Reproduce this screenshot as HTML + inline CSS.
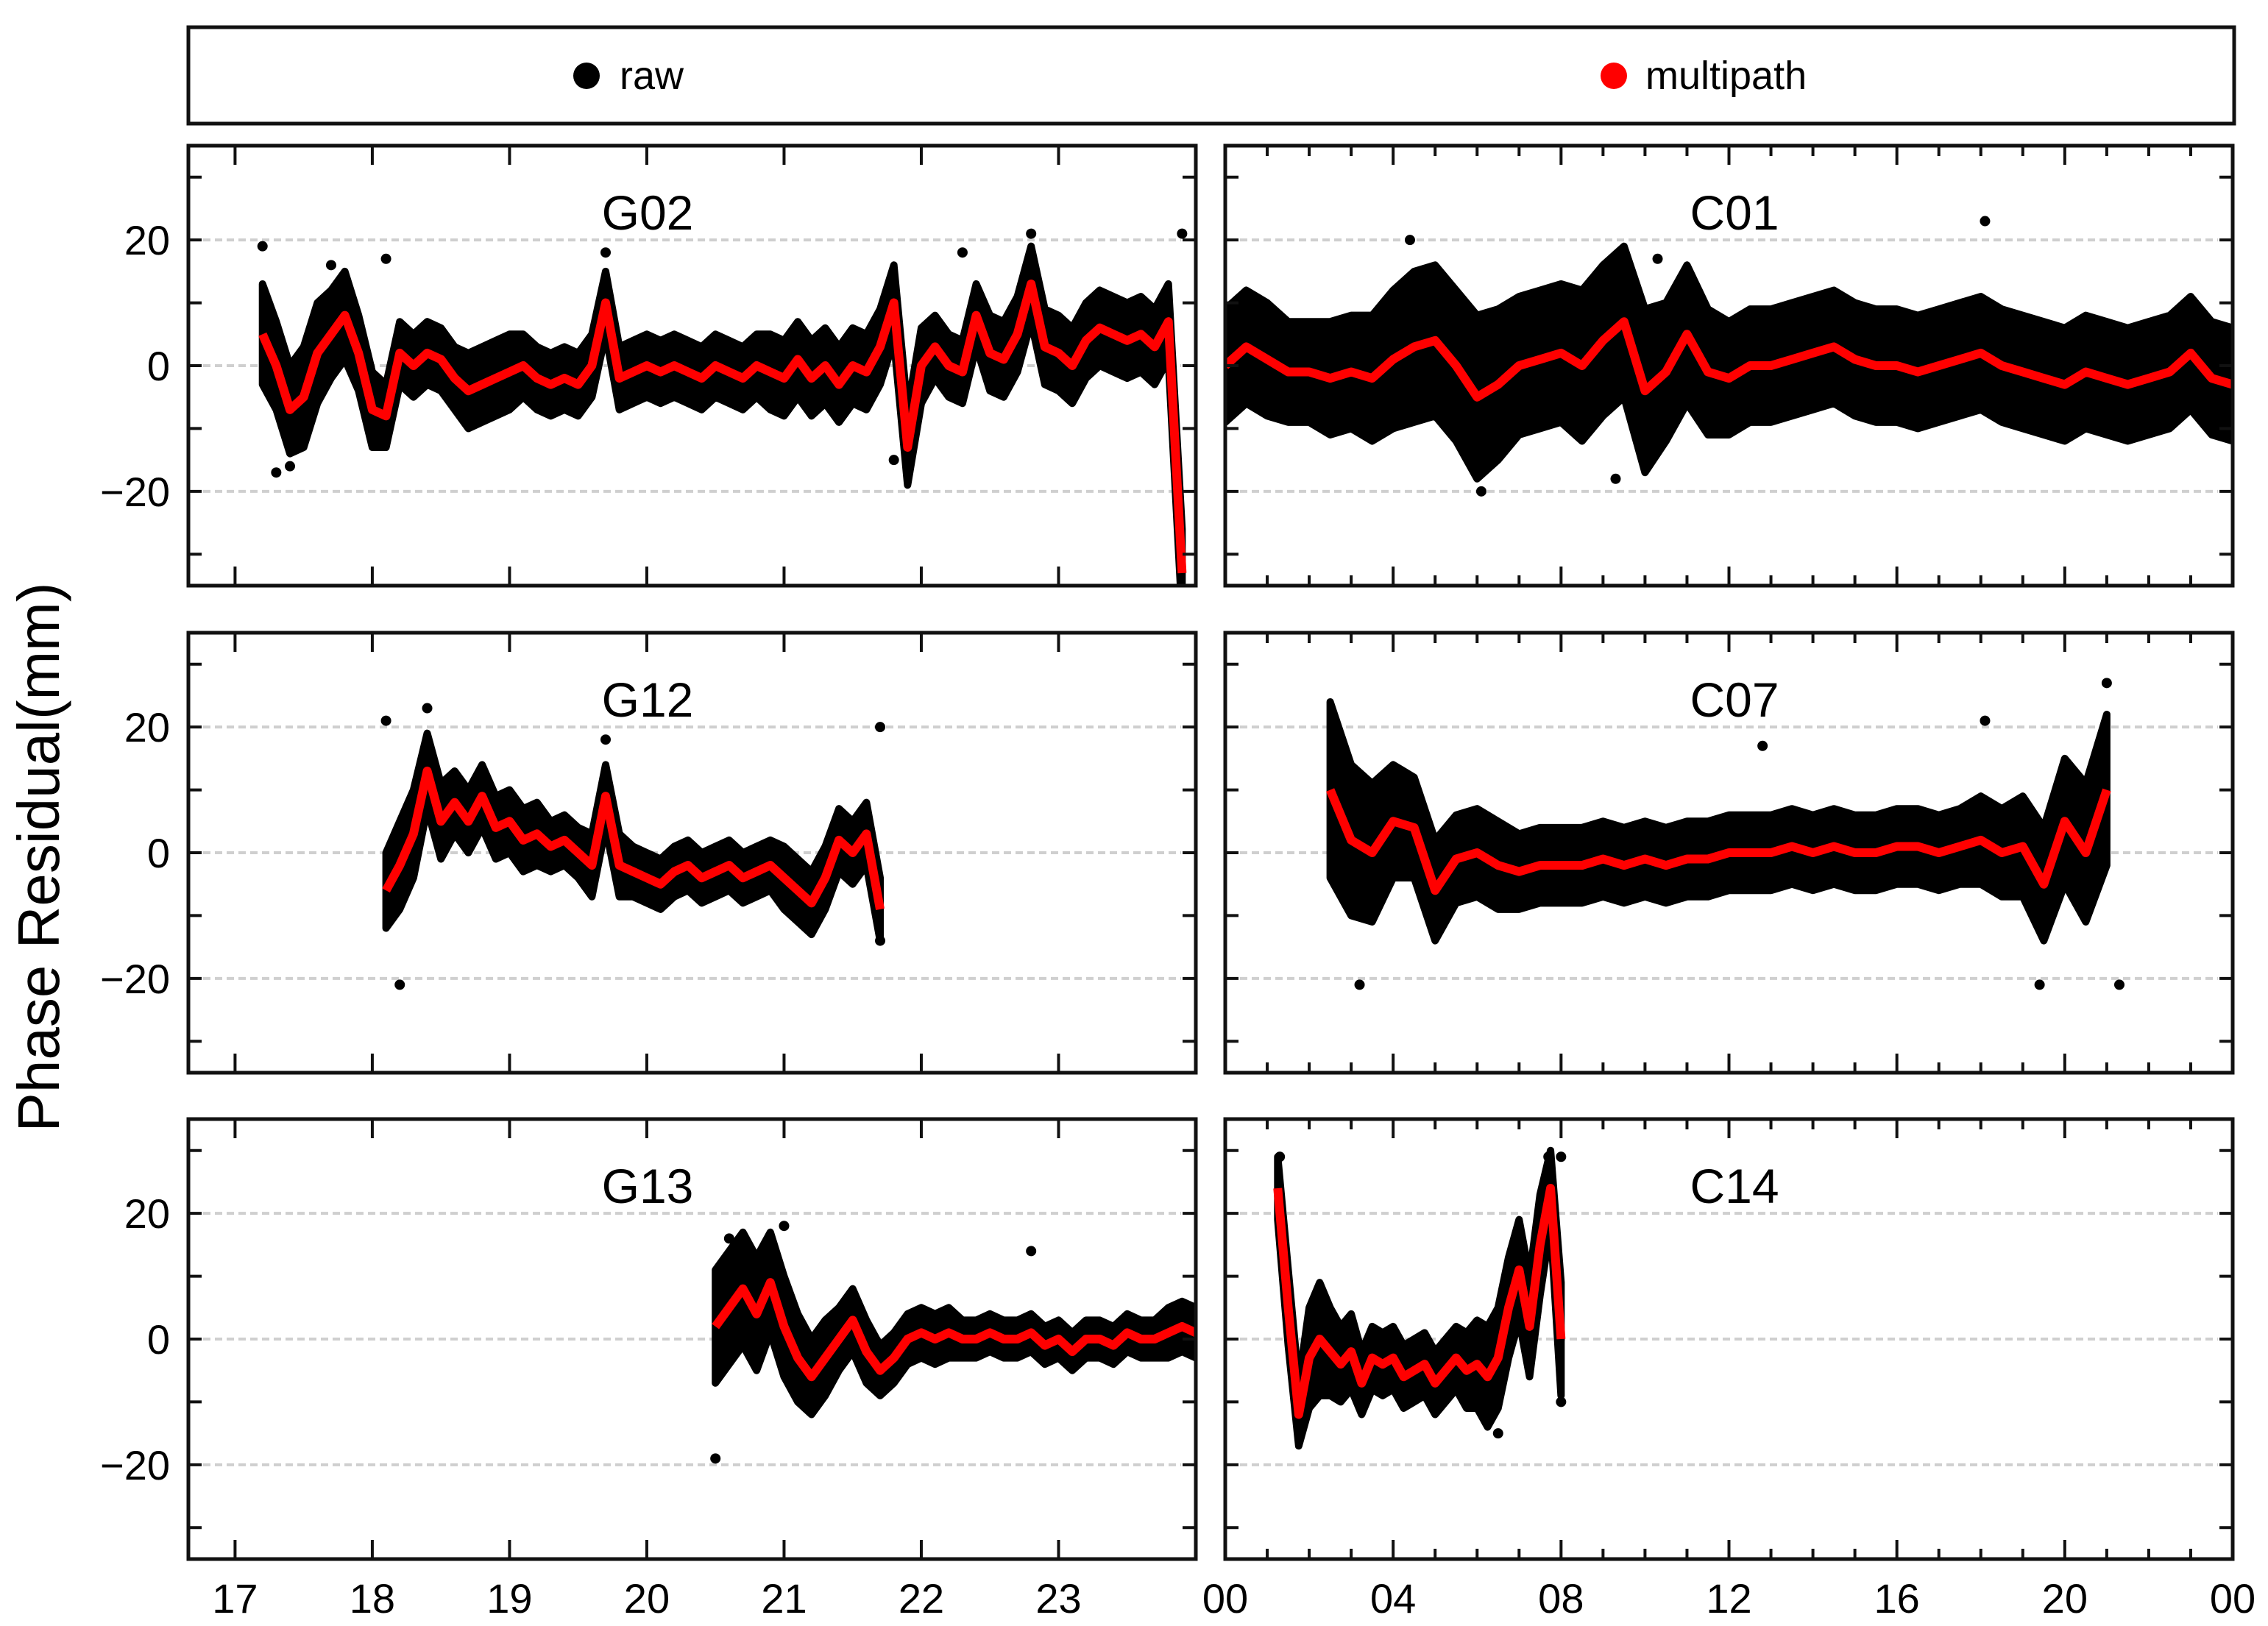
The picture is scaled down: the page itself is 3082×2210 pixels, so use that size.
<!DOCTYPE html>
<html><head><meta charset="utf-8"><style>
html,body{margin:0;padding:0;background:#fff}
svg{display:block}
text{font-family:"Liberation Sans",Arial,sans-serif}
</style></head><body>
<svg id="fig" width="3082" height="2210" viewBox="0 0 3082 2210" xmlns="http://www.w3.org/2000/svg">
<rect x="0" y="0" width="3082" height="2210" fill="#fff"/>
<g>
<rect x="256" y="37" width="2780" height="131" fill="#fff" stroke="#111" stroke-width="5"/>
<g><circle cx="797" cy="103" r="18" fill="#000"/><text x="842" y="121" font-size="54">raw</text></g>
<g><circle cx="2193" cy="103" r="18" fill="#f00"/><text x="2236" y="121" font-size="54">multipath</text></g>
</g>
<text transform="translate(80,1165) rotate(-90)" text-anchor="middle" font-size="80">Phase Residual(mm)</text>
</svg>
<script>
// ---- data (hours, mm) ----
const g02Start=17.2, g02Step=0.1;
const g02Multipath=[5,0,-7,-5,2,5,8,2,-7,-8,2,0,2,1,-2,-4,-3,-2,-1,0,-2,-3,-2,-3,0,10,-2,-1,0,-1,0,-1,-2,0,-1,-2,0,-1,-2,1,-2,0,-3,0,-1,3,10,-13,0,3,0,-1,8,2,1,5,13,3,2,0,4,6,5,4,5,3,7,-33];
const g02Spread=[8,7,8,7,6,5,5,5,6,6,5,5,5,5,5,5,5,5,5,6,6,6,6,6,6,5,5,6,6,6,6,6,6,6,7];
const g02Outliers=[[17.2,19],[17.3,-17],[17.4,-16],[17.7,16],[18.1,17],[19.7,18],[21.8,-15],[22.8,21],[23.9,21],[22.3,18]];

const c01Start=0, c01Step=0.5;
const c01Multipath=[0,3,1,-1,-1,-2,-1,-2,1,3,4,0,-5,-3,0,1,2,0,4,7,-4,-1,5,-1,-2,0,0,1,2,3,1,0,0,-1,0,1,2,0,-1,-2,-3,-1,-2,-3,-2,-1,2,-2,-3];
const c01Spread=[9,9,9,8,8,9,9,10,11,12,12,12,13,12,11,11,11,12,12,12,13,11,11,10,9,9,9,9,9,9,9,9,9,9,9,9,9,9,9,9,9,9,9,9,9,9,9,9,9];
const c01Outliers=[[4.4,20],[6.1,-20],[18.1,23],[9.3,-18],[10.3,17]];

const g12Start=18.1, g12Step=0.1;
const g12Multipath=[-6,-2,3,13,5,8,5,9,4,5,2,3,1,2,0,-2,9,-2,-3,-4,-5,-3,-2,-4,-3,-2,-4,-3,-2,-4,-6,-8,-4,2,0,3,-9];
const g12Spread=[6,7,7,6,6,5,5,5,5,5,5,5,4,4,4,5,5,5,4,4,4,4,4,4,4,4,4,4,4,5,5,5,5,5,5,5,5];
const g12Outliers=[[18.1,21],[18.2,-21],[18.4,23],[19.7,18],[21.7,20],[21.7,-14]];

const c07Start=2.5, c07Step=0.5;
const c07Multipath=[10,2,0,5,4,-6,-1,0,-2,-3,-2,-2,-2,-1,-2,-1,-2,-1,-1,0,0,0,1,0,1,0,0,1,1,0,1,2,0,1,-5,5,0,10];
const c07Spread=[14,12,11,9,8,8,7,7,7,6,6,6,6,6,6,6,6,6,6,6,6,6,6,6,6,6,6,6,6,6,6,7,7,8,9,10,11,12];
const c07Outliers=[[3.2,-21],[21.3,-21],[21.0,27],[19.4,-21],[18.1,21],[12.8,17]];

const g13Start=20.5, g13Step=0.1;
const g13Multipath=[2,5,8,4,9,2,-3,-6,-3,0,3,-2,-5,-3,0,1,0,1,0,0,1,0,0,1,-1,0,-2,0,0,-1,1,0,0,1,2,1];
const g13Spread=[9,9,9,9,8,8,7,6,6,5,5,5,4,4,4,4,4,4,3,3,3,3,3,3,3,3,3,3,3,3,3,3,3,4,4,4];
const g13Outliers=[[20.5,-19],[20.6,16],[21.0,18],[22.8,14]];

const c14Start=1.25, c14Step=0.25;
const c14Multipath=[24,5,-12,-3,0,-2,-4,-2,-7,-3,-4,-3,-6,-5,-4,-7,-5,-3,-5,-4,-6,-3,5,11,2,15,24,0];
const c14Spread=[5,6,5,8,9,7,6,6,5,5,5,5,5,5,5,5,5,5,6,7,8,8,8,8,8,8,6,9];
const c14Outliers=[[1.3,29],[7.7,29],[8.0,29],[6.5,-15],[8.0,-10]];

const yTicks=[-30,-20,-10,0,10,20,30];
const yLabels=[-20,0,20];
const leftXLabels=["17","18","19","20","21","22","23"];
const rightXLabels=["00","04","08","12","16","20","00"];

// ---- layout ----
const NS="http://www.w3.org/2000/svg";
const svg=document.getElementById('fig');
const rowsTop=[198,860,1521], PH=598;
const cols=[{x0:256,x1:1625,d0:16.66,d1:24},{x0:1665,x1:3034,d0:0,d1:24}];
const Y0=-35,Y1=35;
function mk(tag,attrs,parent){const e=document.createElementNS(NS,tag);for(const k in attrs)e.setAttribute(k,attrs[k]);(parent||svg).appendChild(e);return e;}

const panels=[
 {name:'G02',row:0,col:0,s:g02Start,st:g02Step,mp:g02Multipath,sp:g02Spread,out:g02Outliers},
 {name:'C01',row:0,col:1,s:c01Start,st:c01Step,mp:c01Multipath,sp:c01Spread,out:c01Outliers},
 {name:'G12',row:1,col:0,s:g12Start,st:g12Step,mp:g12Multipath,sp:g12Spread,out:g12Outliers},
 {name:'C07',row:1,col:1,s:c07Start,st:c07Step,mp:c07Multipath,sp:c07Spread,out:c07Outliers},
 {name:'G13',row:2,col:0,s:g13Start,st:g13Step,mp:g13Multipath,sp:g13Spread,out:g13Outliers},
 {name:'C14',row:2,col:1,s:c14Start,st:c14Step,mp:c14Multipath,sp:c14Spread,out:c14Outliers}
];

panels.forEach(p=>{
 const c=cols[p.col], top=rowsTop[p.row], bot=top+PH;
 const xs=v=>c.x0+(v-c.d0)/(c.d1-c.d0)*(c.x1-c.x0);
 const ys=v=>top+(Y1-v)/(Y1-Y0)*PH;
 const g=mk('g',{});
 
 
 const cp='clip'+p.name;
 const cl=mk('clipPath',{id:cp},g);mk('rect',{x:c.x0,y:top,width:c.x1-c.x0,height:PH},cl);
 yLabels.forEach(v=>{const l=mk('line',{x1:c.x0+20,x2:c.x1-20,y1:ys(v),y2:ys(v),stroke:'#cfcfcf','stroke-width':4,'stroke-dasharray':'10 6'},g);
  
  });
 const dg=mk('g',{'clip-path':'url(#'+cp+')'},g);
 const n=p.mp.length;
 const sp=i=>p.sp[Math.min(p.sp.length-1,Math.round(i*(p.sp.length-1)/Math.max(1,n-1)))];
 let up=[],lo=[];
 for(let i=0;i<n;i++){const x=xs(p.s+i*p.st);up.push(x+','+ys(p.mp[i]+sp(i)));lo.unshift(x+','+ys(p.mp[i]-sp(i)));}
 const band=mk('polygon',{points:up.concat(lo).join(' '),fill:'#000',stroke:'#000','stroke-width':10,'stroke-linejoin':'round'},dg);
 
 
 p.out.forEach(o=>{const d=mk('circle',{cx:xs(o[0]),cy:ys(o[1]),r:7,fill:'#000'},dg);
  
  });
 const pts=p.mp.map((v,i)=>xs(p.s+i*p.st)+','+ys(v)).join(' ');
 const ln=mk('polyline',{points:pts,fill:'none',stroke:'#f00','stroke-width':12,'stroke-linejoin':'round'},dg);
 
 
 mk('rect',{x:c.x0,y:top,width:c.x1-c.x0,height:PH,fill:'none',stroke:'#111','stroke-width':5},g);
 yTicks.forEach(v=>{const y=ys(v);mk('line',{x1:c.x0,x2:c.x0+18,y1:y,y2:y,stroke:'#111','stroke-width':4},g);mk('line',{x1:c.x1,x2:c.x1-18,y1:y,y2:y,stroke:'#111','stroke-width':4},g);});
 if(p.col===0){yLabels.forEach(v=>{const t=mk('text',{x:c.x0-25,y:ys(v)+20,'text-anchor':'end','font-size':56},g);t.textContent=(v<0?'\u2212'+(-v):v);
  
  });}
 if(p.col===0){for(let h=17;h<=23;h++){const x=xs(h);mk('line',{x1:x,x2:x,y1:top,y2:top+26,stroke:'#111','stroke-width':4},g);mk('line',{x1:x,x2:x,y1:bot,y2:bot-26,stroke:'#111','stroke-width':4},g);}
  if(p.row===2)leftXLabels.forEach((s,i)=>{const t=mk('text',{x:xs(17+i),y:2192,'text-anchor':'middle','font-size':56},g);t.textContent=s;
   
   });}
 else{for(let h=0;h<=24;h++){const x=xs(h),L=h%4===0?26:14;mk('line',{x1:x,x2:x,y1:top,y2:top+L,stroke:'#111','stroke-width':4},g);mk('line',{x1:x,x2:x,y1:bot,y2:bot-L,stroke:'#111','stroke-width':4},g);}
  if(p.row===2)rightXLabels.forEach((s,i)=>{const t=mk('text',{x:xs(i*4),y:2192,'text-anchor':'middle','font-size':56},g);t.textContent=s;
   
   });}
 const tt=mk('text',{x:p.col===0?880:2357,y:top+114,'text-anchor':'middle','font-size':66},g);tt.textContent=p.name;
 
 
});
</script>
</body></html>
